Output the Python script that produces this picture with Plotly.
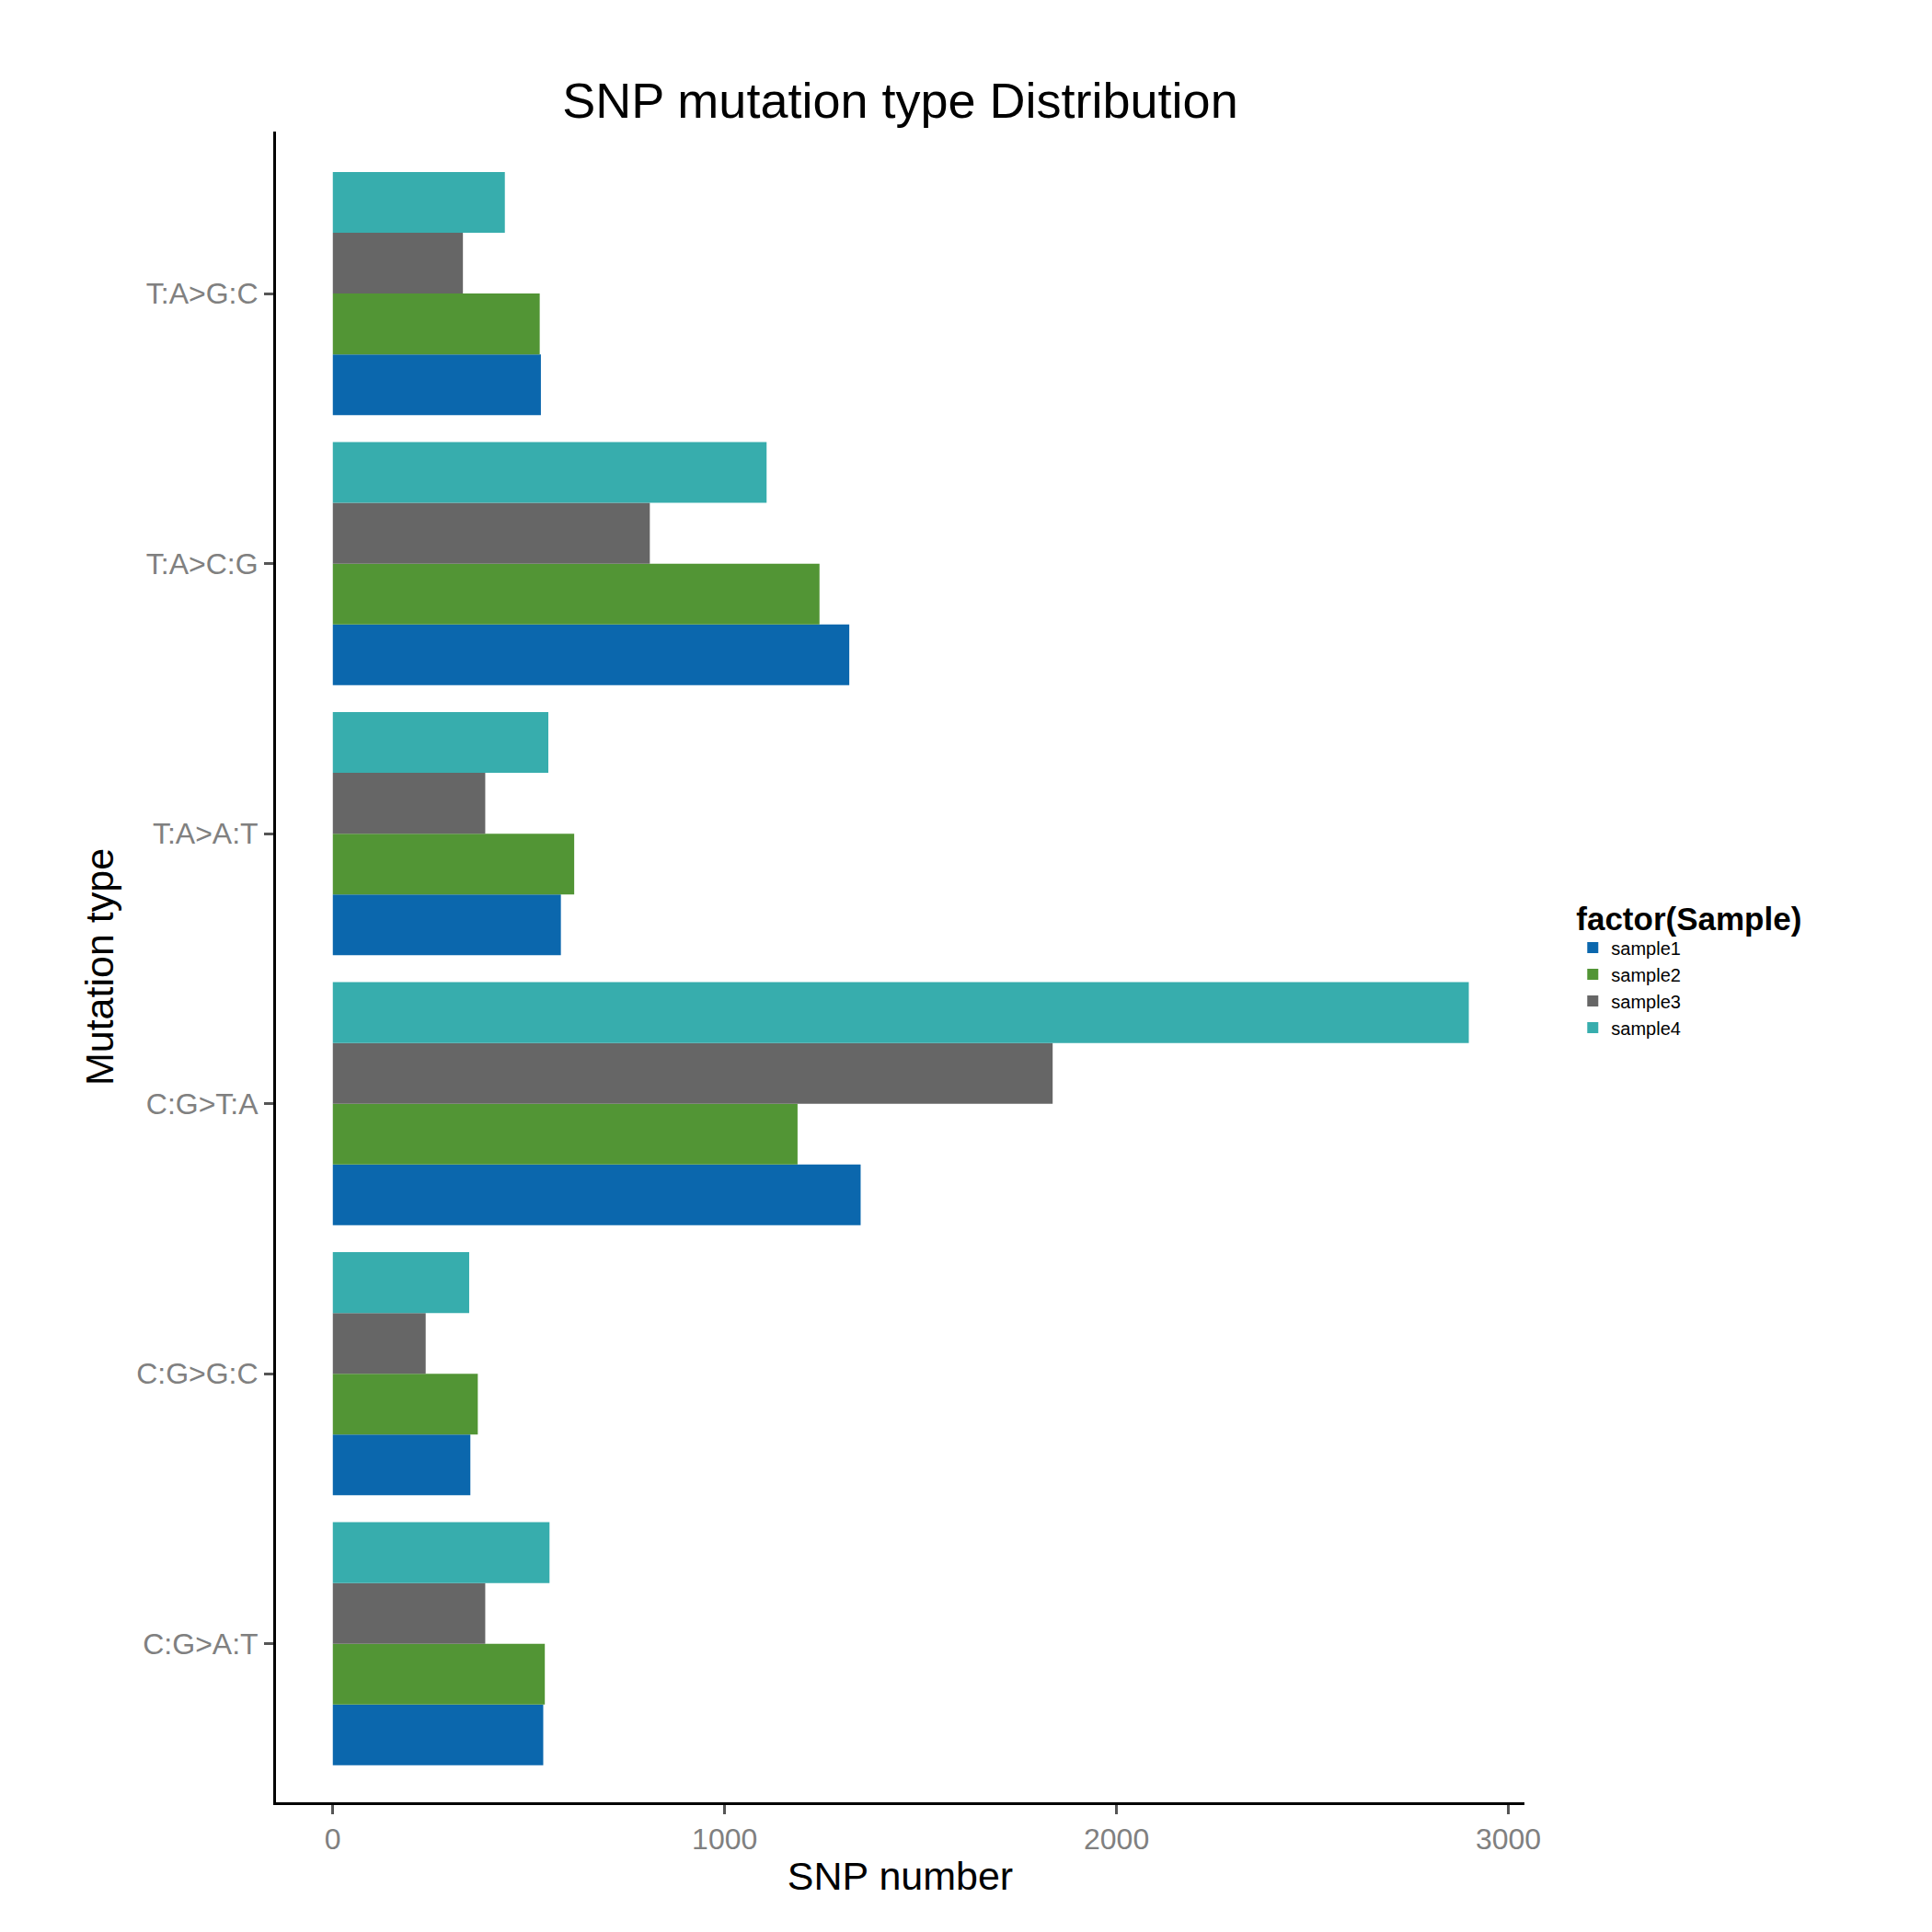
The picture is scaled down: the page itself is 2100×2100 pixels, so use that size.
import plotly.graph_objects as go

# Data
mutation_types = ["C:G>A:T", "C:G>G:C", "C:G>T:A", "T:A>A:T", "T:A>C:G", "T:A>G:C"]
samples = ["sample1", "sample2", "sample3", "sample4"]
sample1 = [537, 351, 1347, 582, 1318, 531]
sample2 = [541, 370, 1186, 616, 1242, 528]
sample3 = [389, 237, 1837, 389, 809, 332]
sample4 = [553, 348, 2899, 550, 1107, 439]
values = [sample1, sample2, sample3, sample4]

colors = ["#0b67ad", "#529535", "#666666", "#37adad"]

fig = go.Figure()
for name, vals, col in zip(samples, values, colors):
    fig.add_trace(go.Bar(
        y=mutation_types, x=vals, name=name, orientation="h",
        marker=dict(color=col, line=dict(width=0)),
    ))

fig.update_layout(
    width=2100, height=2100,
    barmode="group", bargap=0.1, bargroupgap=0,
    plot_bgcolor="white", paper_bgcolor="white",
    font=dict(family="Liberation Sans, Arial", color="black"),
    margin=dict(l=292, r=451, t=135, b=149),
    title=dict(text="SNP mutation type Distribution", x=0.5, xref="paper",
               xanchor="center", y=0.952, yanchor="middle",
               font=dict(size=54, color="black")),
    legend=dict(
        title=dict(text="<b>factor(Sample)</b>", font=dict(size=35)),
        font=dict(size=20), x=1.04, xanchor="left", y=0.5, yanchor="middle",
        traceorder="normal", itemsizing="constant", tracegroupgap=0,
    ),
)

fig.update_xaxes(
    range=[-145, 3041], tickvals=[0, 1000, 2000, 3000],
    showgrid=False, zeroline=False,
    showline=True, linecolor="black", linewidth=3,
    ticks="outside", ticklen=10, tickwidth=3, tickcolor="#555555",
    tickfont=dict(size=32, color="#808080"),
    title=dict(text="SNP number", font=dict(size=43), standoff=8),
)
fig.update_yaxes(
    range=[-0.587, 5.6], categoryorder="array", categoryarray=mutation_types,
    showgrid=False, zeroline=False,
    showline=True, linecolor="black", linewidth=3,
    ticks="outside", ticklen=10, tickwidth=3, tickcolor="#555555",
    tickfont=dict(size=32, color="#808080"),
    title=dict(text="Mutation type", font=dict(size=43), standoff=12),
)

fig.write_html("out.html")
